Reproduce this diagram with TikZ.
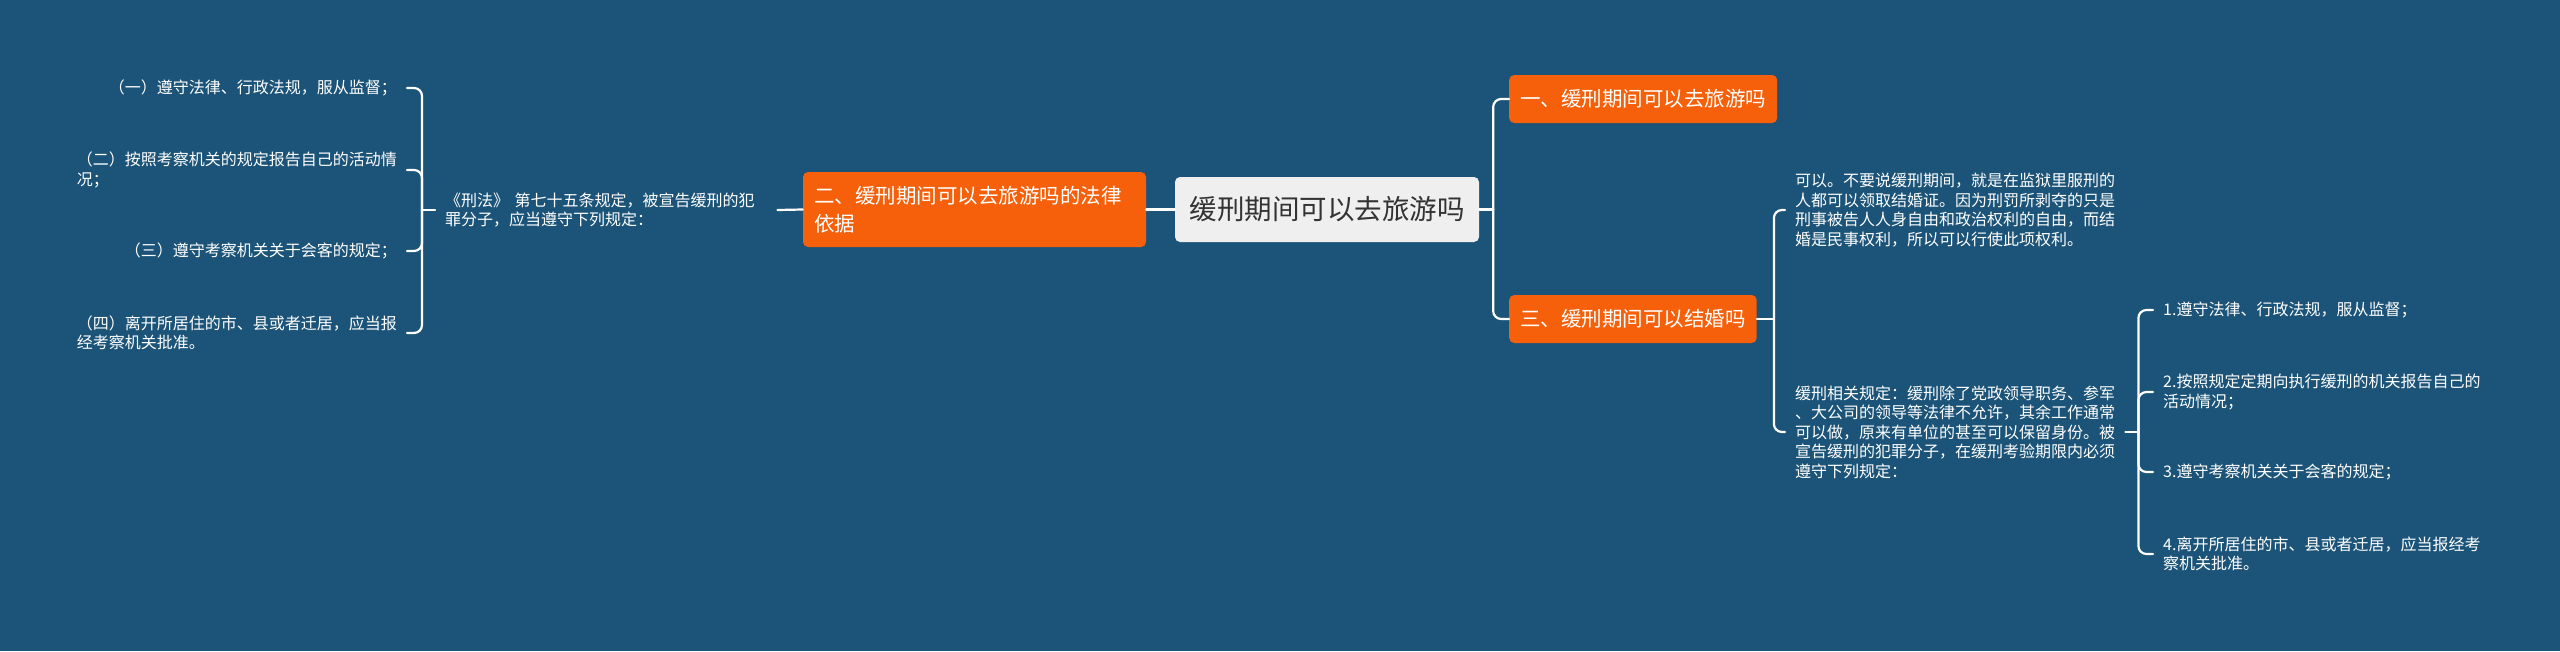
\documentclass[tikz,border=0pt]{standalone}
\usepackage{fontspec}
\newfontfamily\cjk{Noto Sans CJK SC}
\usepackage{tikz}
\usetikzlibrary{positioning}
\definecolor{bgblue}{HTML}{1B5478}
\definecolor{topicorange}{HTML}{F6600A}
\definecolor{rootgray}{HTML}{EFEFEF}
\definecolor{rootink}{HTML}{333333}

\begin{document}
\begin{tikzpicture}[x=1pt,y=-1pt,
		rootbox/.style={fill=rootgray,text=rootink,rounded corners=5pt,inner xsep=14.5pt,minimum height=65pt,font=\cjk\fontsize{27.5}{32}\selectfont},
		topic/.style={fill=topicorange,text=white,rounded corners=5pt,inner xsep=11pt,minimum height=48pt,font=\cjk\fontsize{20.5}{28}\selectfont},
		leaf/.style={text=white,inner xsep=10pt,inner ysep=3pt,align=left,font=\cjk\fontsize{16}{19.5}\selectfont},
		link/.style={draw=white,line width=2.2pt,line cap=round,rounded corners=8pt}]
			
			\useasboundingbox (0,0) rectangle (2560,651);
			\fill[bgblue] (0,0) rectangle (2560,651);
			
			\node[rootbox] (root) at (1327,209.5) {缓刑期间可以去旅游吗};
			
			\node[topic,anchor=west] (n1) at (1509,99) {一、缓刑期间可以去旅游吗};
			\node[topic,anchor=west] (n3) at (1509,319) {三、缓刑期间可以结婚吗};
			\node[topic,align=left,text width=321pt,minimum height=75pt] (n2) at (974.5,209.5) {二、缓刑期间可以去旅游吗的法律\\依据};
			
			\node[leaf,anchor=west,text width=322pt] (law) at (435,210) {《刑法》 第七十五条规定，被宣告缓刑的犯\\罪分子，应当遵守下列规定：};
			\node[leaf,anchor=east] (l1) at (407,88) {（一）遵守法律、行政法规，服从监督；};
			\node[leaf,anchor=east] (l2) at (407,170) {（二）按照考察机关的规定报告自己的活动情\\况；};
			\node[leaf,anchor=east] (l3) at (407,251) {（三）遵守考察机关关于会客的规定；};
			\node[leaf,anchor=east] (l4) at (407,333) {（四）离开所居住的市、县或者迁居，应当报\\经考察机关批准。};
			
			\node[leaf,anchor=west] (yes) at (1785,210) {可以。不要说缓刑期间，就是在监狱里服刑的\\人都可以领取结婚证。因为刑罚所剥夺的只是\\刑事被告人人身自由和政治权利的自由，而结\\婚是民事权利，所以可以行使此项权利。};
			\node[leaf,anchor=west,text width=320pt] (rule) at (1785,432) {缓刑相关规定：缓刑除了党政领导职务、参军\\、大公司的领导等法律不允许，其余工作通常\\可以做，原来有单位的甚至可以保留身份。被\\宣告缓刑的犯罪分子，在缓刑考验期限内必须\\遵守下列规定：};
			\node[leaf,anchor=west] (r1) at (2153,310) {1.遵守法律、行政法规，服从监督；};
			\node[leaf,anchor=west] (r2) at (2153,392) {2.按照规定定期向执行缓刑的机关报告自己的\\活动情况；};
			\node[leaf,anchor=west] (r3) at (2153,472) {3.遵守考察机关关于会客的规定；};
			\node[leaf,anchor=west] (r4) at (2153,554) {4.离开所居住的市、县或者迁居，应当报经考\\察机关批准。};
			
			\draw[link] (root.west)--(n2.east);
			\draw[link] (root.east)--++(14,0) coordinate (rj);
			\draw[link] (n1.west)-|(rj);
			\draw[link] (n3.west)-|(rj);
			
			\draw[link] (n2.west)--(law.east);
			\draw[link] (law.west)--++(-13,0) coordinate (lj);
			\foreach \i in {1,...,4}
				\draw[link] (l\i.east)-|(lj);
			
			\draw[link] (n3.east)--++(17,0) coordinate (tj);
			\draw[link] (yes.west)-|(tj);
			\draw[link] (rule.west)-|(tj);
			
			\draw[link] (rule.east)--++(13,0) coordinate (sj);
			\foreach \i in {1,...,4}
				\draw[link] (r\i.west)-|(sj);
			
		\end{tikzpicture}
\end{document}
